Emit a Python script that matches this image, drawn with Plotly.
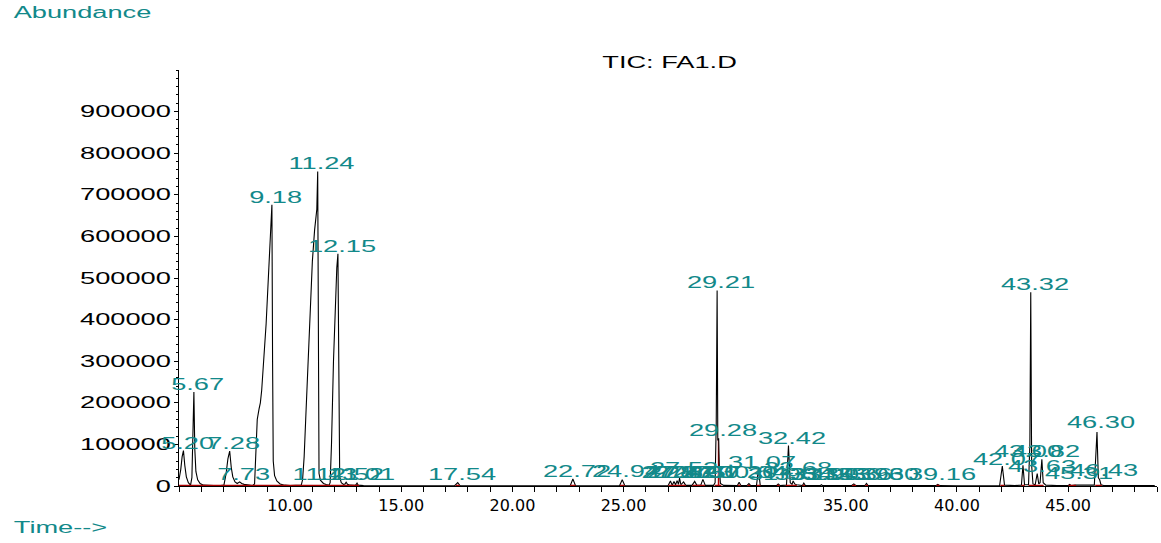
import plotly.graph_objects as go

# ---------------- data ----------------
time_min = [
    5.00, 5.08, 5.14, 5.20, 5.26, 5.33, 5.42, 5.52, 5.58, 5.63, 5.67, 5.71, 5.76, 5.84, 5.95,
    6.10, 6.40, 6.80, 7.02, 7.12, 7.20, 7.28, 7.35, 7.42, 7.52, 7.62, 7.73, 7.82, 7.93, 8.05,
    8.15, 8.30, 8.40, 8.46, 8.52, 8.60, 8.66, 8.72, 8.82, 8.92, 9.02, 9.10, 9.14, 9.18, 9.21,
    9.24, 9.30, 9.40, 9.55, 9.75, 10.00, 10.30, 10.50, 10.56, 10.63, 10.70, 10.78, 10.90, 11.00,
    11.10, 11.20, 11.24, 11.27, 11.30, 11.36, 11.43, 11.50, 11.62, 11.75, 11.80, 11.86, 11.95,
    12.02, 12.10, 12.15, 12.19, 12.23, 12.30, 12.40, 12.47, 12.52, 12.58, 12.70, 12.90, 12.96,
    13.01, 13.06, 13.30, 14.00, 15.00, 16.50, 17.40, 17.54, 17.65, 18.50, 20.00, 22.00, 22.60,
    22.72, 22.84, 24.00, 24.82, 24.94, 25.06, 26.00, 27.00, 27.11, 27.19, 27.27, 27.34, 27.41,
    27.47, 27.52, 27.58, 27.70, 27.80, 28.08, 28.20, 28.30, 28.47, 28.57, 28.68, 29.05, 29.12,
    29.17, 29.21, 29.24, 29.28, 29.31, 29.36, 29.50, 29.90, 30.12, 30.20, 30.28, 30.55, 30.64,
    30.72, 30.98, 31.07, 31.15, 31.50, 31.88, 31.96, 32.04, 32.33, 32.42, 32.50, 32.58, 32.63,
    32.70, 32.78, 33.05, 33.11, 33.18, 33.85, 33.90, 33.96, 34.36, 34.43, 34.50, 35.25, 35.36,
    35.45, 35.86, 35.93, 36.00, 36.52, 36.60, 36.68, 37.50, 38.50, 39.05, 39.14, 39.22, 40.00,
    41.00, 41.92, 42.04, 42.14, 42.60, 42.90, 42.97, 43.04, 43.22, 43.28, 43.32, 43.36, 43.42,
    43.52, 43.61, 43.68, 43.74, 43.82, 43.88, 44.00, 44.50, 45.00, 45.07, 45.15, 45.31, 46.00,
    46.18, 46.30, 46.36, 46.42, 46.48, 46.60, 47.50, 48.90,
]
abundance = [
    15000, 40000, 70000, 85000, 50000, 22000, 8000, 2000, 20000, 150000, 226000, 90000, 35000, 15000, 6000,
    2000, 800, 500, 2000, 30000, 65000, 84000, 45000, 22000, 10000, 6000, 10000, 6000, 4000, 3000,
    1500, 1000, 5000, 90000, 160000, 185000, 200000, 230000, 300000, 390000, 500000, 590000, 615000, 676000, 300000,
    60000, 25000, 12000, 5000, 2000, 800, 600, 2000, 15000, 70000, 160000, 260000, 420000, 540000,
    615000, 665000, 756000, 250000, 30000, 14000, 9000, 6000, 3500, 2000, 8000, 100000, 300000,
    420000, 525000, 558000, 150000, 22000, 8000, 4000, 5000, 9000, 4000, 2000, 1500, 3000,
    7000, 2000, 800, 500, 500, 500, 600, 8000, 600, 500, 400, 500, 600,
    17000, 700, 500, 600, 15000, 700, 500, 800, 12000, 2000, 11000, 3000, 13000,
    4000, 19000, 3000, 10000, 1500, 1500, 11000, 1500, 1500, 16000, 1500, 1500, 8000,
    150000, 470000, 110000, 115000, 40000, 6000, 1500, 1000, 1000, 9000, 1000, 1000, 6000,
    800, 1000, 40000, 1500, 800, 1000, 5000, 1000, 2000, 97000, 8000, 4000, 12000,
    5000, 3000, 1000, 7000, 1000, 800, 3000, 800, 800, 2500, 800, 1000, 5000,
    1000, 1000, 6000, 1000, 800, 2500, 800, 600, 600, 800, 4000, 800, 600,
    600, 1000, 48000, 2000, 1000, 2000, 50000, 3000, 3000, 100000, 466000, 50000, 5000,
    3000, 30000, 5000, 8000, 64000, 8000, 2000, 1000, 1000, 4000, 1000, 2000, 1000,
    2000, 130000, 20000, 15000, 3000, 1000, 800, 800,
]

peak_rt = [5.20, 5.67, 7.28, 7.73, 9.18, 11.24, 11.41, 12.15, 12.52, 13.01, 17.54,
           22.72, 24.94, 27.11, 27.27, 27.41, 27.52, 27.70, 28.20, 28.57, 29.21, 29.28,
           30.20, 30.64, 31.07, 31.96, 32.42, 32.68, 33.11, 33.90, 34.43, 35.36, 35.93,
           36.60, 39.16, 42.07, 43.00, 43.32, 43.63, 43.82, 45.31, 46.30, 46.43]
peak_label = ["5.20", "5.67", "7.28", "7.73", "9.18", "11.24", "11.41", "12.15", "12.52", "13.01", "17.54",
              "22.72", "24.94", "27.11", "27.27", "27.41", "27.52", "27.70", "28.20", "28.57", "29.21", "29.28",
              "30.20", "30.64", "31.07", "31.96", "32.42", "32.68", "33.11", "33.90", "34.43", "35.36", "35.93",
              "36.60", "39.16", "42.07", "43.00", "43.32", "43.63", "43.82", "45.31", "46.30", "46.43"]
peak_apex = [85000, 226000, 84000, 9600, 676000, 758000, 9600, 558000, 9600, 9600, 9600,
             17000, 17000, 14000, 14000, 14000, 25000, 14000, 14000, 14000, 470000, 115000,
             14000, 14000, 38000, 10000, 97000, 25000, 10000, 10000, 10000, 10000, 10000,
             10000, 10000, 45000, 65000, 466000, 29000, 65000, 12000, 134000, 19000]

# integrated ranges (red baseline)
int_start = [5.00, 17.45, 22.60, 24.84, 27.02, 28.10, 29.10, 30.14, 30.58, 30.99, 31.90, 32.30,
             33.05, 35.28, 35.88, 39.08, 41.95, 42.90, 43.22, 45.02, 46.22]
int_end = [13.10, 17.63, 22.84, 25.05, 27.80, 28.66, 29.40, 30.26, 30.70, 31.16, 32.02, 32.80,
           33.16, 35.46, 36.00, 39.22, 42.14, 43.05, 43.90, 45.36, 46.52]
fill_range = (29.24, 29.31)

x_ticks = [10, 15, 20, 25, 30, 35, 40, 45]
x_tick_text = ["10.00", "15.00", "20.00", "25.00", "30.00", "35.00", "40.00", "45.00"]
y_ticks = [0, 100000, 200000, 300000, 400000, 500000, 600000, 700000, 800000, 900000]
y_tick_text = ["0", "100000", "200000", "300000", "400000", "500000", "600000", "700000", "800000", "900000"]

# ---------------- figure ----------------
W, H = 1161, 543
ML, MR, MT, MB = 179, 4, 70, 57
TEAL = "#12898a"
FONT = "Liberation Sans"


def px_x(p):
    return (p - ML) / (W - ML - MR)


def px_y(p):
    return (H - MB - p) / (H - MT - MB)


fig = go.Figure()

# red integrated-area fill for the 29.28 peak
fx = [t for t in time_min if fill_range[0] <= t <= fill_range[1]]
fy = [a for t, a in zip(time_min, abundance) if fill_range[0] <= t <= fill_range[1]]
fig.add_trace(go.Scatter(x=fx, y=fy, mode="lines", fill="tozeroy", fillcolor="#b00000",
                         line=dict(width=0, color="#b00000"), hoverinfo="skip"))

# chromatogram
fig.add_trace(go.Scatter(x=time_min, y=abundance, mode="lines",
                         line=dict(color="black", width=1.1)))

# red baselines
bx, by = [], []
for s, e in zip(int_start, int_end):
    bx += [s, e, None]
    by += [0, 0, None]
fig.add_trace(go.Scatter(x=bx, y=by, mode="lines", line=dict(color="#a80000", width=2.5),
                         hoverinfo="skip"))

annotations = []
for rt, lab, ap in zip(peak_rt, peak_label, peak_apex):
    annotations.append(dict(x=rt, y=ap, xref="x", yref="y", text=lab, showarrow=False,
                            xanchor="center", yanchor="bottom", xshift=4, yshift=-3,
                            font=dict(family=FONT, size=16, color=TEAL)))

annotations.append(dict(x=px_x(82), y=px_y(12), xref="paper", yref="paper", text="Abundance",
                        showarrow=False, xanchor="center", yanchor="middle",
                        font=dict(family=FONT, size=16, color=TEAL)))
annotations.append(dict(x=px_x(60), y=px_y(527), xref="paper", yref="paper", text="Time-->",
                        showarrow=False, xanchor="center", yanchor="middle",
                        font=dict(family=FONT, size=16, color=TEAL)))
annotations.append(dict(x=px_x(669), y=px_y(62), xref="paper", yref="paper", text="TIC: FA1.D",
                        showarrow=False, xanchor="center", yanchor="middle",
                        font=dict(family=FONT, size=16, color="black")))

fig.update_layout(
    width=W, height=H,
    margin=dict(l=ML, r=MR, t=MT, b=MB),
    paper_bgcolor="white", plot_bgcolor="white",
    showlegend=False,
    annotations=annotations,
    xaxis=dict(range=[5, 49], showgrid=False, zeroline=False, showline=True,
               linecolor="black", linewidth=1, ticks="outside", ticklen=5, tickcolor="black",
               tickvals=x_ticks, ticktext=x_tick_text, layer="below traces",
               tickfont=dict(family="DejaVu Sans", size=16, color="black"),
               minor=dict(tickmode="linear", tick0=0, dtick=1, ticks="outside", ticklen=5,
                          tickcolor="black")),
    yaxis=dict(range=[0, 1000000], showgrid=False, zeroline=False, showline=True,
               linecolor="black", linewidth=1, ticks="outside", ticklen=4, tickcolor="black",
               tickvals=y_ticks, ticktext=y_tick_text, layer="below traces",
               tickfont=dict(family=FONT, size=16, color="black"),
               minor=dict(tickmode="linear", tick0=0, dtick=20000, ticks="outside", ticklen=2,
                          tickcolor="black")),
)

# page without body margin; widen the glyphs as in the reference's stretched font
post = """
document.body.style.margin = '0';
var gd = document.getElementById('{plot_id}');
gd.querySelectorAll('.annotation-text, .ytick text').forEach(function (t) {
  var L = t.getComputedTextLength();
  if (L > 0) {
    t.setAttribute('textLength', (L * 1.7).toFixed(1));
    t.setAttribute('lengthAdjust', 'spacingAndGlyphs');
  }
});
"""
fig.write_html("out.html", post_script=post, config={"displayModeBar": False})
